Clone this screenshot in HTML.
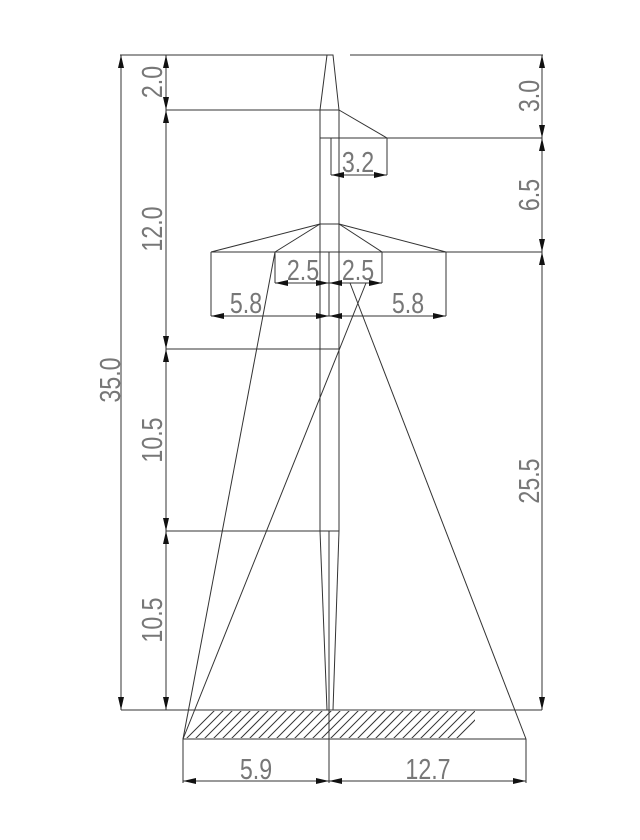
<!DOCTYPE html>
<html><head><meta charset="utf-8"><style>
html,body{margin:0;padding:0;background:#fff;}
svg{display:block}
text{font-family:"Liberation Sans",sans-serif;font-size:29px;fill:#777;}
</style></head><body>
<svg width="640" height="840" viewBox="0 0 640 840" xmlns="http://www.w3.org/2000/svg">
<defs>
<clipPath id="hc"><rect x="183" y="711" width="292" height="27"/></clipPath>
</defs>
<g stroke="#333" stroke-width="1" fill="none">
<line x1="120" y1="55" x2="333" y2="55"/>
<line x1="350" y1="55" x2="543" y2="55"/>
<line x1="121" y1="55" x2="121" y2="710"/>
<line x1="166" y1="55" x2="166" y2="710"/>
<line x1="542" y1="55" x2="542" y2="710"/>
<polyline points="320,110 327,55 333,55 339,110"/>
<line x1="320" y1="110" x2="320" y2="531"/>
<line x1="339" y1="110" x2="339" y2="531"/>
<line x1="320" y1="531" x2="327" y2="710"/>
<line x1="339" y1="531" x2="333" y2="710"/>
<line x1="329" y1="531" x2="329" y2="783"/>
<line x1="329" y1="252" x2="329" y2="316"/>
<line x1="166" y1="110" x2="339" y2="110"/>
<line x1="339" y1="110" x2="387" y2="138"/>
<line x1="320" y1="138" x2="542" y2="138"/>
<line x1="331" y1="138" x2="331" y2="175"/>
<line x1="387" y1="138" x2="387" y2="175"/>
<line x1="331" y1="175" x2="387" y2="175"/>
<line x1="320" y1="224" x2="339" y2="224"/>
<line x1="320" y1="224" x2="211" y2="252"/>
<line x1="320" y1="224" x2="275" y2="252"/>
<line x1="339" y1="224" x2="382" y2="252"/>
<line x1="339" y1="224" x2="446" y2="252"/>
<line x1="211" y1="252" x2="542" y2="252"/>
<line x1="211" y1="252" x2="211" y2="316"/>
<line x1="446" y1="252" x2="446" y2="316"/>
<line x1="275" y1="252" x2="275" y2="283"/>
<line x1="382" y1="252" x2="382" y2="283"/>
<line x1="275" y1="283" x2="382" y2="283"/>
<line x1="211" y1="316" x2="446" y2="316"/>
<line x1="166" y1="349" x2="339" y2="349"/>
<line x1="166" y1="531" x2="339" y2="531"/>
<line x1="183" y1="739" x2="275" y2="252"/>
<line x1="183" y1="739" x2="366" y2="283"/>
<line x1="350" y1="283" x2="526" y2="739"/>
<line x1="121" y1="710" x2="542" y2="710"/>
<line x1="183" y1="739" x2="526" y2="739"/>
<line x1="183" y1="739" x2="183" y2="783"/>
<line x1="526" y1="739" x2="526" y2="783"/>
<line x1="183" y1="781" x2="526" y2="781"/>
<g clip-path="url(#hc)">
<path d="M180,745 l36,-36 M189,745 l36,-36 M198,745 l36,-36 M207,745 l36,-36 M216,745 l36,-36 M225,745 l36,-36 M234,745 l36,-36 M243,745 l36,-36 M252,745 l36,-36 M261,745 l36,-36 M270,745 l36,-36 M279,745 l36,-36 M288,745 l36,-36 M297,745 l36,-36 M306,745 l36,-36 M315,745 l36,-36 M324,745 l36,-36 M333,745 l36,-36 M342,745 l36,-36 M351,745 l36,-36 M360,745 l36,-36 M369,745 l36,-36 M378,745 l36,-36 M387,745 l36,-36 M396,745 l36,-36 M405,745 l36,-36 M414,745 l36,-36 M423,745 l36,-36 M432,745 l36,-36 M441,745 l36,-36 M450,745 l36,-36"/>
</g>
</g>
<g fill="#111">
<path d="M121,55 l-3,13 h6z M121,710 l-3,-13 h6z"/>
<path d="M166,55 l-3,13 h6z M166,110 l-3,-13 h6z M166,110 l-3,13 h6z M166,349 l-3,-13 h6z M166,349 l-3,13 h6z M166,531 l-3,-13 h6z M166,531 l-3,13 h6z M166,710 l-3,-13 h6z"/>
<path d="M542,55 l-3,13 h6z M542,138 l-3,-13 h6z M542,138 l-3,13 h6z M542,252 l-3,-13 h6z M542,252 l-3,13 h6z M542,710 l-3,-13 h6z"/>
<path d="M331,175 l13,-3 v6z M387,175 l-13,-3 v6z"/>
<path d="M275,283 l13,-3 v6z M329,283 l-13,-3 v6z M329,283 l13,-3 v6z M382,283 l-13,-3 v6z"/>
<path d="M211,316 l13,-3 v6z M329,316 l-13,-3 v6z M329,316 l13,-3 v6z M446,316 l-13,-3 v6z"/>
<path d="M183,781 l13,-3 v6z M329,781 l-13,-3 v6z M329,781 l13,-3 v6z M526,781 l-13,-3 v6z"/>
</g>
<g text-anchor="middle">
<text transform="translate(358,172) scale(0.8,1)">3.2</text>
<text transform="translate(303,280) scale(0.8,1)">2.5</text>
<text transform="translate(358,280) scale(0.8,1)">2.5</text>
<text transform="translate(246,313) scale(0.8,1)">5.8</text>
<text transform="translate(408,313) scale(0.8,1)">5.8</text>
<text transform="translate(256,779) scale(0.8,1)">5.9</text>
<text transform="translate(428,779) scale(0.8,1)">12.7</text>
<text transform="translate(120,380) rotate(-90) scale(0.8,1)">35.0</text>
<text transform="translate(162,82) rotate(-90) scale(0.8,1)">2.0</text>
<text transform="translate(162,229) rotate(-90) scale(0.8,1)">12.0</text>
<text transform="translate(162,440) rotate(-90) scale(0.8,1)">10.5</text>
<text transform="translate(162,620) rotate(-90) scale(0.8,1)">10.5</text>
<text transform="translate(539,96) rotate(-90) scale(0.8,1)">3.0</text>
<text transform="translate(539,195) rotate(-90) scale(0.8,1)">6.5</text>
<text transform="translate(539,481) rotate(-90) scale(0.8,1)">25.5</text>
</g>
</svg>
</body></html>
